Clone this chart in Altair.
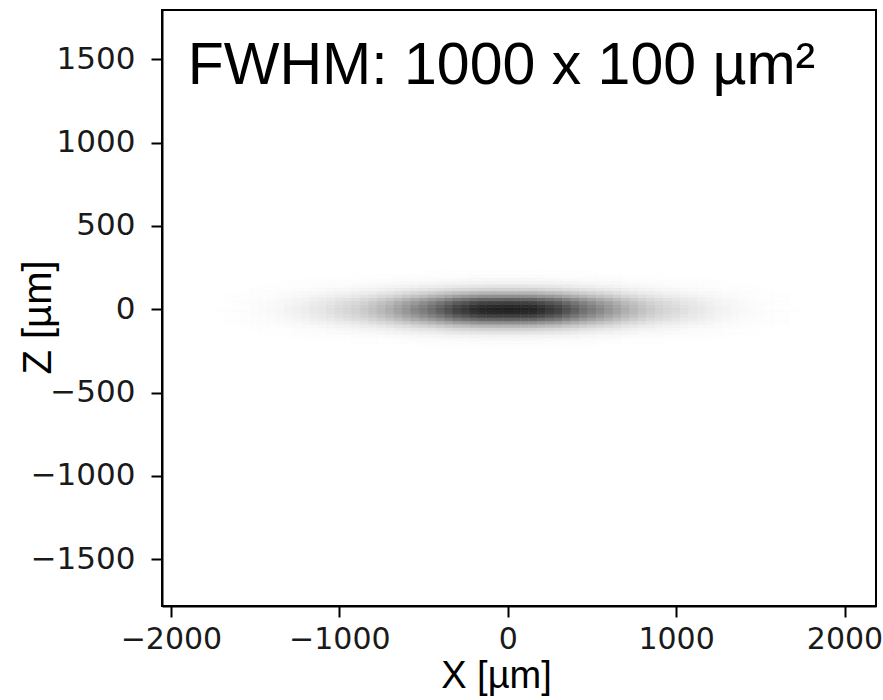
import altair as alt
import pandas as pd

# Grid of the intensity image (cell centres, µm)
X_CENTERS = list(range(-1800, 1801, 50))
Z_CENTERS = list(range(-220, 221, 20))
X_STEP = 50
Z_STEP = 20

# Intensity profile along X (through Z = 0)
X_PROFILE = [0.0, 0.001, 0.002, 0.004, 0.006, 0.009, 0.013, 0.018, 0.025, 0.033,
             0.043, 0.055, 0.068, 0.085, 0.10, 0.12, 0.14, 0.16, 0.18, 0.21, 0.24,
             0.28, 0.32, 0.37, 0.42, 0.47, 0.52, 0.57, 0.63, 0.69, 0.75, 0.79,
             0.83, 0.86, 0.87, 0.875, 0.88, 0.875, 0.87, 0.86, 0.83, 0.79, 0.75,
             0.69, 0.63, 0.57, 0.52, 0.47, 0.42, 0.37, 0.32, 0.28, 0.24, 0.21,
             0.18, 0.16, 0.14, 0.12, 0.10, 0.085, 0.068, 0.055, 0.043, 0.033, 0.025,
             0.018, 0.013, 0.009, 0.006, 0.004, 0.002, 0.001, 0.0]
# Relative profile along Z (through X = 0)
Z_PROFILE = [0.004, 0.012, 0.03, 0.06, 0.12, 0.2, 0.33, 0.5, 0.7, 0.86, 0.96, 1.0,
             0.96, 0.86, 0.7, 0.5, 0.33, 0.2, 0.12, 0.06, 0.03, 0.012, 0.004]

X_TICKS = [-2000, -1000, 0, 1000, 2000]
Z_TICKS = [-1500, -1000, -500, 0, 500, 1000, 1500]
X_DOMAIN = [-2053, 2187]
Z_DOMAIN = [-1780, 1795]
TITLE_TEXT = "FWHM: 1000 x 100 µm²"

rows = []
for xc, xv in zip(X_CENTERS, X_PROFILE):
    for zc, zv in zip(Z_CENTERS, Z_PROFILE):
        v = xv * zv
        if v < 0.002:
            continue
        rows.append({"x0": xc - X_STEP / 2, "x1": xc + X_STEP / 2,
                     "z0": zc - Z_STEP / 2, "z1": zc + Z_STEP / 2, "v": v})
df = pd.DataFrame(rows)

xscale = alt.Scale(domain=X_DOMAIN, nice=False, zero=False)
zscale = alt.Scale(domain=Z_DOMAIN, nice=False, zero=False)
cscale = alt.Scale(domain=[0, 1], range=["#ffffff", "#000000"], interpolate="rgb")

heat = alt.Chart(df).mark_rect(strokeWidth=0.6).encode(
    x=alt.X("x0:Q", scale=xscale,
            axis=alt.Axis(values=X_TICKS, format="d", title="X [µm]",
                          titleX=334, titleY=81, titleBaseline="alphabetic",
                          titleAnchor="start", titleAlign="center",
                          titleFontSize=38,
                          labelPadding=7, labelFontSize=30)),
    x2="x1:Q",
    y=alt.Y("z0:Q", scale=zscale,
            axis=alt.Axis(values=Z_TICKS, format="d", title="Z [µm]",
                          titleX=-112, titleY=307, titleAngle=270,
                          titleBaseline="alphabetic", titleAlign="center",
                          labelPadding=16)),
    y2="z1:Q",
    color=alt.Color("v:Q", scale=cscale, legend=None),
    stroke=alt.Stroke("v:Q", scale=cscale, legend=None),
)

label_df = pd.DataFrame({"x": [-1900], "z": [1350], "t": [TITLE_TEXT]})
label = alt.Chart(label_df).mark_text(
    align="left", baseline="alphabetic", font="Liberation Sans",
    fontSize=59, color="black"
).encode(
    x=alt.X("x:Q", scale=xscale),
    y=alt.Y("z:Q", scale=zscale),
    text="t:N",
)

chart = alt.layer(heat, label).properties(
    width=714, height=596,
    autosize=alt.AutoSizeParams(type="none"),
    padding={"left": 162, "top": 10, "right": 7, "bottom": 94},
    background="white",
).configure_view(
    stroke="black", strokeWidth=2, fill="white"
).configure_axis(
    grid=False,
    domainColor="black", domainWidth=2,
    tickColor="black", tickWidth=2, tickSize=11,
    labelFont="DejaVu Sans", labelFontSize=31, labelColor="#1a1a1a",
    titleFont="Liberation Sans", titleFontSize=40, titleFontWeight="normal",
    titleColor="black",
)

chart.save("out.html", embed_options={"renderer": "svg", "actions": False})
